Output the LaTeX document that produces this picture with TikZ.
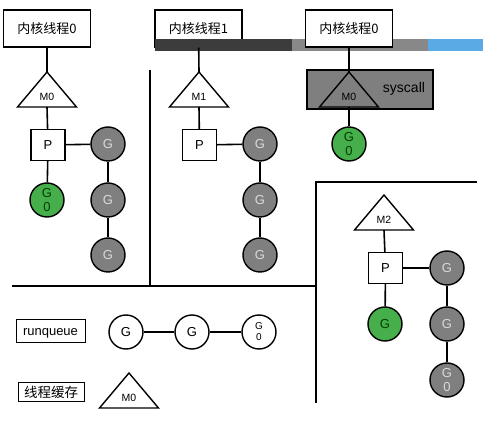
\documentclass[tikz,border=0pt]{standalone}
\usepackage{fontspec}
\setmainfont{Liberation Sans}
\newfontfamily\cjk{Noto Sans CJK SC}
\usepackage{xcolor}
\usepackage{tikz}
\usetikzlibrary{positioning}

\definecolor{ggray}{HTML}{7F7F7F}
\definecolor{ggreen}{HTML}{46AE4A}
\definecolor{gtext}{HTML}{DADADA}
\definecolor{darkbar}{HTML}{3C3C3C}
\definecolor{midbar}{HTML}{888888}
\definecolor{bluebar}{HTML}{5AAAE6}

\tikzset{
  kbox/.style={draw,line width=1.3pt,fill=white,minimum width=87pt,minimum height=37pt,inner sep=0pt,font=\cjk\fontsize{13}{15}\selectfont},
  pbox/.style={draw,line width=1.2pt,fill=white,minimum width=34pt,minimum height=31pt,inner sep=0pt,font=\fontsize{13}{15}\selectfont},
  gnode/.style={circle,draw,line width=1.4pt,minimum size=34pt,inner sep=0pt,fill=ggray,text=gtext,align=center,font=\fontsize{13}{15}\selectfont},
  grun/.style={gnode,fill=ggreen,text=green!25!black},
  gfree/.style={gnode,fill=white,text=black},
  mtri/.style={draw,line width=1.4pt,fill=white,line join=miter},
  mlabel/.style={inner sep=0pt,font=\fontsize{10.5}{12}\selectfont},
  tagbox/.style={draw,line width=0.9pt,inner sep=0pt,font=\fontsize{13}{15}\selectfont},
  wire/.style={line width=1.6pt},
}

\begin{document}
\begin{tikzpicture}[x=1pt,y=-1pt]
\useasboundingbox (0,0) rectangle (483,422);

% kernel threads and the bar
\node[kbox] (k0) at (47,28.5) {内核线程0};
\node[kbox] (k1) at (198.5,28.5) {内核线程1};
\fill[darkbar] (155,39) rectangle (292,51);
\fill[midbar] (292,39) rectangle (428,51);
\fill[bluebar] (428,39) rectangle (483,51);
\node[kbox] (k2) at (349,28.5) {内核线程0};

% dividers
\draw[wire] (150,70) -- (150,286);
\draw[wire] (12,286) -- (316,286);
\draw[wire] (316,403) -- (316,182) -- (477,182);

% machines
\foreach \n/\x/\y/\t in {m0/47/72/M0, m1/199/72/M1, m2/384/195/M2, mc/129/373/M0}
{
  \coordinate (\n) at (\x,\y);
  \coordinate (\n-b) at (\x,\y+35);
  \draw[mtri] (\n) -- ++(-29.5,35) -- ++(59,0) -- cycle;
  \node[mlabel,below=21pt of \n] (\n-txt) {\t};
}

% syscall block
\node[draw,line width=1.3pt,fill=ggray,minimum width=126pt,minimum height=39pt,inner sep=0pt] (sys) at (370,89.5) {};
\node[font=\fontsize{14}{16}\selectfont,inner sep=0pt] (systxt) at (404,89) {syscall};
\coordinate (ms) at (349,72);
\coordinate (ms-b) at (349,107);
\draw[mtri,fill=ggray] (ms) -- ++(-29.5,35) -- ++(59,0) -- cycle;
\node[mlabel,below=21pt of ms] (ms-txt) {M0};

% processors
\node[pbox] (p0) at (48,145) {P};
\node[pbox] (p1) at (199.5,145) {P};
\node[pbox] (p2) at (385.5,268) {P};

% goroutines
\node[gnode] (g01) at (108,144) {G};
\node[gnode] (g02) at (108,200) {G};
\node[gnode] (g03) at (108,255) {G};
\node[grun] (g00) at (47,200) {G\\[-1pt]0};
\node[gnode] (g11) at (260,144) {G};
\node[gnode] (g12) at (260,200) {G};
\node[gnode] (g13) at (260,255) {G};
\node[grun] (g10) at (349,144) {G\\[-1pt]0};
\node[gnode] (g21) at (447,268) {G};
\node[gnode] (g22) at (447,324) {G};
\node[gnode] (g23) at (447,380) {G\\[-1pt]0};
\node[grun] (g20) at (385,324) {G};

% runqueue and thread cache
\node[tagbox,minimum width=69pt,minimum height=23pt,text height=9.8pt,text depth=0pt] (rq) at (50.5,330.5) {runqueue};
\node[tagbox,minimum width=66pt,minimum height=19pt,font=\cjk\fontsize{13.5}{15}\selectfont] (tc) at (51,392) {线程缓存};
\node[gfree] (r1) at (126,332) {G};
\node[gfree] (r2) at (192,332) {G};
\node[gfree,font=\fontsize{10}{11}\selectfont] (r3) at (259,332) {G\\0};

% links
\path[wire]
  (k0) edge (m0)  (m0-b) edge (p0)
  (p0) edge (g01) (p0) edge (g00)
  (g01) edge (g02) (g02) edge (g03)
  (k1) edge (m1)  (m1-b) edge (p1)
  (p1) edge (g11)
  (g11) edge (g12) (g12) edge (g13)
  (k2) edge (ms)  (ms-b) edge (g10)
  (m2-b) edge (p2)
  (p2) edge (g21) (p2) edge (g20)
  (g21) edge (g22) (g22) edge (g23)
  (r1) edge (r2) (r2) edge (r3)
;
\end{tikzpicture}
\end{document}
